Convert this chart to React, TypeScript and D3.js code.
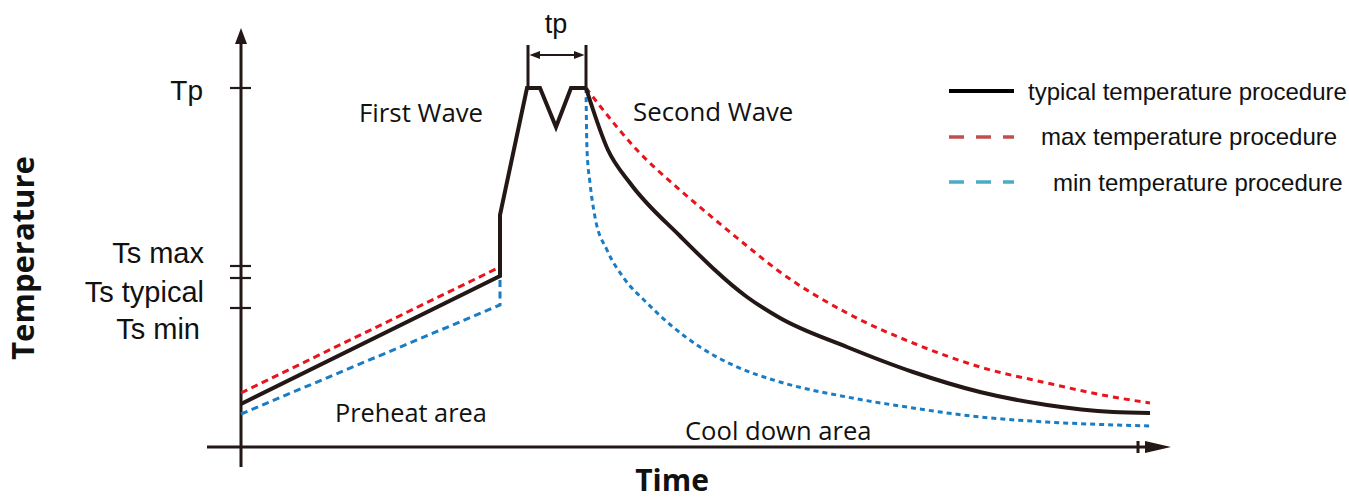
import React, { useMemo } from 'react';
import * as d3 from 'd3';

// time / temperature in arbitrary units (profile sketch)
const typicalRamp: [number, number][] = [
  [0, 43], [259, 171], [259, 232], [286, 359], [299, 359], [315, 320], [330, 359], [345, 359],
];
const typicalCool: [number, number][] = [
  [345, 359], [367, 297], [389, 264], [439, 211], [506, 150],
  [539, 129], [606, 100], [672, 75], [739, 55], [806, 42], [872, 35], [909, 34],
];
const maxRamp: [number, number][] = [[0, 54], [259, 180]];
const maxCool: [number, number][] = [
  [345, 359], [359, 341], [396, 297], [439, 257], [472, 229], [506, 201], [539, 175],
  [606, 134], [672, 104], [739, 80], [806, 64], [872, 50], [909, 44],
];
const minRamp: [number, number][] = [[0, 33], [259, 142], [259, 169]];
const minCool: [number, number][] = [
  [345, 359], [346, 297], [349, 264], [354, 230], [366, 197], [382, 170], [406, 144],
  [432, 120], [459, 100], [494, 81], [539, 65], [606, 50], [672, 39], [739, 30],
  [806, 25], [909, 21],
];

const yTickValues = [359, 181, 169, 139];
const yTickLabels = ['Tp', 'Ts max', 'Ts typical', 'Ts min'];
const xTickValues = [897];
const tpInterval = [287, 345];
const legendLabels = ['typical temperature procedure', 'max temperature procedure', 'min temperature procedure'];

const INK = '#231815';
const RED = '#e8141c';
const BLUE = '#1a7dc4';
const SANS = '"Liberation Sans", Arial, sans-serif';
const OPEN = '"Open Sans", "Noto Sans", sans-serif';

export default function App() {
  const width = 1349;
  const height = 499;

  // pixel frame of the axes
  const x = d3.scaleLinear().domain([0, 930]).range([241, 1171]);
  const y = d3.scaleLinear().domain([0, 420]).range([447, 27]);

  const straight = useMemo(
    () => d3.line<[number, number]>().x(d => x(d[0])).y(d => y(d[1])),
    []
  );
  const smooth = useMemo(
    () => d3.line<[number, number]>().x(d => x(d[0])).y(d => y(d[1])).curve(d3.curveMonotoneX),
    []
  );

  const x0 = x(0);
  const y0 = y(0);
  const labelBaselines = [100, 263, 302, 339];

  const legendRows = [
    { stroke: '#000', dash: undefined, textX: 1028, lineY: 91, textY: 100, w: 4 },
    { stroke: '#c0504d', dash: '15 12', textX: 1041, lineY: 137, textY: 145, w: 3.5 },
    { stroke: '#4bacc6', dash: '15 12', textX: 1053, lineY: 182, textY: 191, w: 3.5 },
  ];

  const tpL = x(tpInterval[0]);
  const tpR = x(tpInterval[1]);

  return (
    <svg
      width={width}
      height={height}
      style={{ position: 'absolute', left: 0, top: 0, display: 'block', background: '#fff' }}
    >
      {/* axes */}
      <line x1={x0} x2={x0} y1={467} y2={42} stroke={INK} strokeWidth={3} />
      <path d={`M${x0},${y(420) + 1} L${x0 - 6},${y(420) + 17} L${x0 + 6},${y(420) + 17} Z`} fill={INK} />
      <line x1={207} x2={1150} y1={y0} y2={y0} stroke={INK} strokeWidth={3} />
      <path d={`M${x(930)},${y0} L${x(930) - 26},${y0 - 6} L${x(930) - 26},${y0 + 6} Z`} fill={INK} />
      {xTickValues.map(v => (
        <line key={v} x1={x(v)} x2={x(v)} y1={y0 - 6} y2={y0 + 6} stroke={INK} strokeWidth={3} />
      ))}

      {yTickValues.map((v, i) => (
        <g key={yTickLabels[i]}>
          <line x1={x0 - 11} x2={x0 + 10} y1={y(v)} y2={y(v)} stroke={INK} strokeWidth={2.2} />
          <text
            x={i === 0 ? 203 : i === 3 ? 200 : 204}
            y={labelBaselines[i]}
            textAnchor="end"
            fontFamily={SANS}
            fontSize={i === 0 ? 28 : 29}
            fill="#111"
          >
            {yTickLabels[i]}
          </text>
        </g>
      ))}

      <text
        transform="translate(34,258) rotate(-90)"
        textAnchor="middle"
        fontFamily={OPEN}
        fontWeight={700}
        fontSize={31}
        fill="#111"
      >
        Temperature
      </text>
      <text x={672} y={491} textAnchor="middle" fontFamily={OPEN} fontWeight={700} fontSize={30} fill="#111">
        Time
      </text>

      {/* tp marker */}
      <line x1={tpL} x2={tpL} y1={45} y2={y(359)} stroke={INK} strokeWidth={3} />
      <line x1={tpR} x2={tpR} y1={45} y2={y(359)} stroke={INK} strokeWidth={3} />
      <line x1={tpL + 8} x2={tpR - 8} y1={55} y2={55} stroke={INK} strokeWidth={2} />
      <path d={`M${tpL + 1.5},55 L${tpL + 12},51 L${tpL + 12},59 Z`} fill={INK} />
      <path d={`M${tpR - 1.5},55 L${tpR - 12},51 L${tpR - 12},59 Z`} fill={INK} />
      <text x={556} y={33} textAnchor="middle" fontFamily={SANS} fontSize={27} fill="#111">tp</text>

      {/* min / max profiles */}
      <path d={straight(maxRamp) || ''} fill="none" stroke={RED} strokeWidth={3} strokeDasharray="7 4.5" />
      <path d={smooth(maxCool) || ''} fill="none" stroke={RED} strokeWidth={3} strokeDasharray="6 5" />
      <path d={straight(minRamp) || ''} fill="none" stroke={BLUE} strokeWidth={3} strokeDasharray="7 4.5" />
      <path d={smooth(minCool) || ''} fill="none" stroke={BLUE} strokeWidth={3} strokeDasharray="5 4" />

      {/* typical profile */}
      <path d={straight(typicalRamp) || ''} fill="none" stroke={INK} strokeWidth={4} strokeLinejoin="miter" />
      <path d={smooth(typicalCool) || ''} fill="none" stroke={INK} strokeWidth={4} />

      {/* region labels */}
      <text x={359} y={122} fontFamily={OPEN} fontSize={25.8} fill="#111">First Wave</text>
      <text x={633} y={121} fontFamily={OPEN} fontSize={25.8} fill="#111">Second Wave</text>
      <text x={335} y={422} fontFamily={OPEN} fontSize={25.3} fill="#111">Preheat area</text>
      <text x={685} y={440} fontFamily={OPEN} fontSize={25.6} fill="#111">Cool down area</text>

      {/* legend */}
      {legendRows.map((r, i) => (
        <g key={legendLabels[i]}>
          <line
            x1={949}
            x2={1014}
            y1={r.lineY}
            y2={r.lineY}
            stroke={r.stroke}
            strokeWidth={r.w}
            strokeDasharray={r.dash}
          />
          <text x={r.textX} y={r.textY} fontFamily={SANS} fontSize={24} fill="#111">
            {legendLabels[i]}
          </text>
        </g>
      ))}
    </svg>
  );
}
